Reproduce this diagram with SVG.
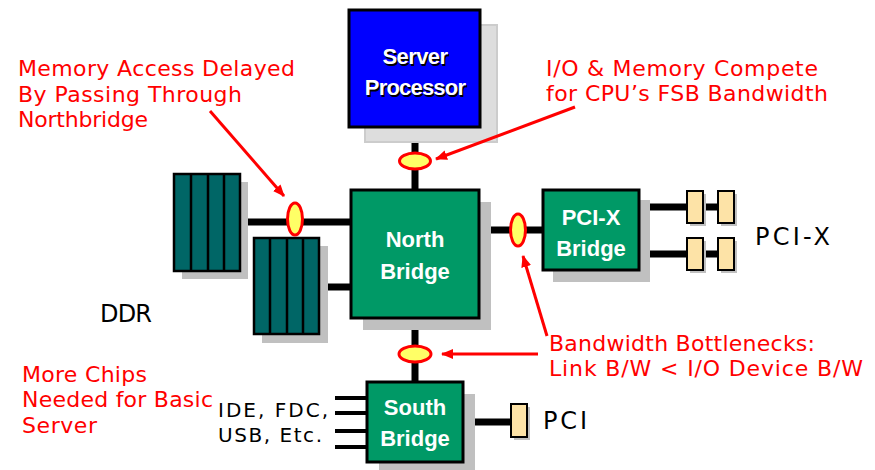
<svg xmlns="http://www.w3.org/2000/svg" width="875" height="470" viewBox="0 0 875 470">
<defs>
<marker id="ah" markerWidth="12" markerHeight="10" refX="11" refY="5" orient="auto" markerUnits="userSpaceOnUse" viewBox="0 0 12 10">
<path d="M0,0 L12,5 L0,10 z" fill="#ff0000"/>
</marker>
</defs>
<style>
.shadow{fill:#c0c0c0}
.box{stroke:#000;stroke-width:3}
.green{fill:#009966}
.teal{fill:#006666;stroke:#000;stroke-width:2.5}
.slot{fill:#fde3a7;stroke:#000;stroke-width:2}
.bus{stroke:#000;stroke-width:7;fill:none}
.thin{stroke:#000;stroke-width:4;fill:none}
.ell{fill:#ffff66;stroke:#ff0000;stroke-width:3}
.arrow{stroke:#ff0000;stroke-width:3;fill:none;marker-end:url(#ah)}
.wt{font-family:"Liberation Sans",Arial,sans-serif;font-weight:bold;font-size:22px;fill:#fff;text-anchor:middle}
.red{font-family:"DejaVu Sans",Verdana,sans-serif;font-size:22px;fill:#ff0000}
.blk{font-family:"DejaVu Sans",Verdana,sans-serif;fill:#000}
</style>

<g id="connectors">
<line class="bus" x1="415" y1="127" x2="415" y2="190"/>
<line class="bus" x1="415" y1="318" x2="415" y2="382"/>
<line class="bus" x1="240" y1="222" x2="351" y2="222"/>
<line class="bus" x1="319" y1="287" x2="351" y2="287"/>
<line class="bus" x1="479" y1="230" x2="543" y2="230"/>
<line class="bus" x1="639" y1="207" x2="720" y2="207"/>
<line class="bus" x1="639" y1="254" x2="720" y2="254"/>
<line class="bus" x1="463" y1="422" x2="511" y2="422"/>
<line class="thin" x1="335" y1="398" x2="367" y2="398"/>
<line class="thin" x1="335" y1="413" x2="367" y2="413"/>
<line class="thin" x1="335" y1="431" x2="367" y2="431"/>
<line class="thin" x1="335" y1="447" x2="367" y2="447"/>
</g>

<g id="server-processor">
<rect x="365" y="25" width="132" height="117" fill="#dddddd" stroke="#cccccc" stroke-width="2"/>
<rect class="box" x="349" y="10" width="131" height="117" fill="#0000ff"/>
<text class="wt" x="416.5" y="65.5" style="fill:#000" font-size="21" letter-spacing="-0.6">Server</text>
<text class="wt" x="416.5" y="96.5" style="fill:#000" font-size="21" letter-spacing="-0.8">Processor</text>
<text class="wt" x="415" y="64" font-size="21" letter-spacing="-0.6">Server</text>
<text class="wt" x="415" y="95" font-size="21" letter-spacing="-0.8">Processor</text>
</g>

<g id="north-bridge">
<rect class="shadow" x="363" y="202" width="128" height="128"/>
<rect class="box green" x="351" y="190" width="128" height="128"/>
<text class="wt" x="415" y="247">North</text>
<text class="wt" x="415" y="279">Bridge</text>
</g>

<g id="ddr-1">
<rect class="shadow" x="182" y="182" width="66" height="97"/>
<rect class="teal" x="174" y="174" width="66" height="97"/>
<line x1="191" y1="174" x2="191" y2="271" stroke="#000" stroke-width="2.5"/>
<line x1="208" y1="174" x2="208" y2="271" stroke="#000" stroke-width="2.5"/>
<line x1="224" y1="174" x2="224" y2="271" stroke="#000" stroke-width="2.5"/>
</g>

<g id="ddr-2">
<rect class="shadow" x="262" y="246" width="66" height="97"/>
<rect class="teal" x="254" y="238" width="65" height="96"/>
<line x1="270" y1="238" x2="270" y2="334" stroke="#000" stroke-width="2.5"/>
<line x1="287" y1="238" x2="287" y2="334" stroke="#000" stroke-width="2.5"/>
<line x1="303" y1="238" x2="303" y2="334" stroke="#000" stroke-width="2.5"/>
</g>

<g id="pcix-bridge">
<rect class="shadow" x="553" y="200" width="97" height="82"/>
<rect class="box green" x="543" y="190" width="96" height="80"/>
<text class="wt" x="591" y="225">PCI-X</text>
<text class="wt" x="591" y="256">Bridge</text>
</g>

<g id="pcix-slots">
<rect class="shadow" x="690" y="194" width="16" height="32"/>
<rect class="slot" x="687" y="191" width="16" height="32"/>
<rect class="shadow" x="721" y="194" width="16" height="32"/>
<rect class="slot" x="718" y="191" width="16" height="32"/>
<rect class="shadow" x="690" y="241" width="16" height="32"/>
<rect class="slot" x="687" y="238" width="16" height="32"/>
<rect class="shadow" x="721" y="241" width="16" height="32"/>
<rect class="slot" x="718" y="238" width="16" height="32"/>
</g>

<g id="south-bridge">
<rect class="shadow" x="379" y="394" width="96" height="80"/>
<rect class="box green" x="367" y="382" width="96" height="80"/>
<text class="wt" x="415" y="415">South</text>
<text class="wt" x="415" y="446">Bridge</text>
</g>

<g id="pci-slot">
<rect class="shadow" x="514" y="407" width="16" height="33"/>
<rect class="slot" x="511" y="404" width="16" height="33"/>
</g>

<g id="bottlenecks">
<ellipse class="ell" cx="415" cy="161" rx="15.5" ry="8"/>
<ellipse class="ell" cx="295" cy="219" rx="7.5" ry="16"/>
<ellipse class="ell" cx="518" cy="230" rx="7.5" ry="16"/>
<ellipse class="ell" cx="415" cy="354" rx="16" ry="8"/>
</g>

<g id="arrows">
<line class="arrow" x1="575" y1="107" x2="436" y2="159"/>
<line class="arrow" x1="210" y1="111" x2="284" y2="196"/>
<line class="arrow" x1="547" y1="336" x2="523" y2="256"/>
<line class="arrow" x1="538" y1="354" x2="442" y2="354"/>
</g>

<g id="labels">
<text class="red" x="18" y="76" textLength="277">Memory Access Delayed</text>
<text class="red" x="18" y="102" textLength="224">By Passing Through</text>
<text class="red" x="18" y="127" textLength="130">Northbridge</text>
<text class="red" x="546" y="76" textLength="272">I/O &amp; Memory Compete</text>
<text class="red" x="546" y="101" textLength="282">for CPU’s FSB Bandwidth</text>
<text class="red" x="549" y="351" textLength="266">Bandwidth Bottlenecks:</text>
<text class="red" x="549" y="376" textLength="314">Link B/W &lt; I/O Device B/W</text>
<text class="red" x="22" y="382" textLength="125">More Chips</text>
<text class="red" x="22" y="407" textLength="191">Needed for Basic</text>
<text class="red" x="22" y="433" textLength="75">Server</text>
<text class="blk" x="100" y="322" font-size="24" textLength="52">DDR</text>
<text class="blk" x="755" y="245" font-size="24" textLength="75">PCI-X</text>
<text class="blk" x="543" y="429" font-size="24" textLength="44">PCI</text>
<text class="blk" x="218" y="417" font-size="20" textLength="110">IDE, FDC,</text>
<text class="blk" x="218" y="442" font-size="20" textLength="104">USB, Etc.</text>
</g>
</svg>
